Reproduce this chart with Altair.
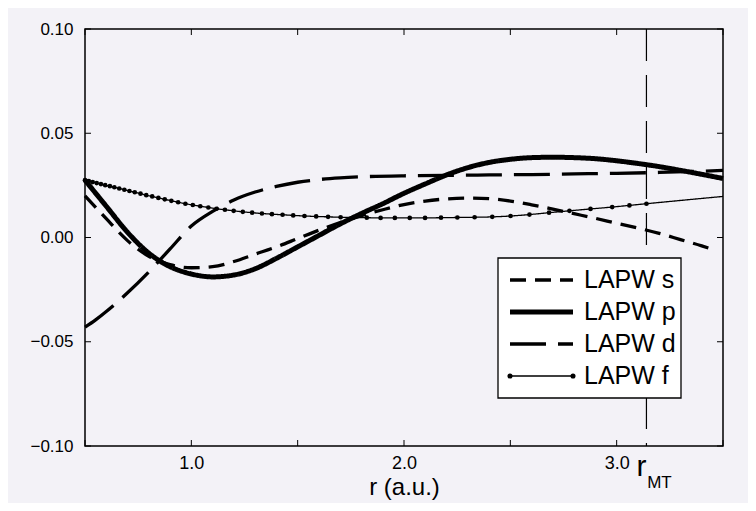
import altair as alt
import pandas as pd

SERIES = ["LAPW s", "LAPW p", "LAPW d", "LAPW f"]

# LAPW s (short dashes)
s_r = [0.50, 0.60, 0.70, 0.80, 0.90, 1.00, 1.10, 1.20, 1.30, 1.40, 1.50, 1.60, 1.70, 1.80,
       1.90, 2.00, 2.10, 2.20, 2.30, 2.40, 2.50, 2.60, 2.70, 2.80, 2.90, 3.00, 3.10, 3.20,
       3.30, 3.40, 3.46]
s_v = [0.0200, 0.0090, -0.0015, -0.0090, -0.0130, -0.0145, -0.0140, -0.0115, -0.0080,
       -0.0045, -0.0005, 0.0035, 0.0072, 0.0105, 0.0133, 0.0158, 0.0175, 0.0185, 0.0189,
       0.0186, 0.0175, 0.0157, 0.0136, 0.0114, 0.0092, 0.0068, 0.0045, 0.0020, -0.0010,
       -0.0040, -0.0060]

# LAPW p (thick solid)
p_r = [0.50, 0.60, 0.70, 0.80, 0.90, 1.00, 1.10, 1.20, 1.30, 1.40, 1.50, 1.60, 1.70, 1.80,
       1.90, 2.00, 2.10, 2.20, 2.30, 2.40, 2.50, 2.60, 2.70, 2.80, 2.90, 3.00, 3.10, 3.20,
       3.30, 3.40, 3.50]
p_v = [0.0275, 0.0150, 0.0025, -0.0075, -0.0140, -0.0175, -0.0189, -0.0180, -0.0150,
       -0.0100, -0.0045, 0.0010, 0.0065, 0.0115, 0.0162, 0.0212, 0.0257, 0.0300, 0.0335,
       0.0360, 0.0375, 0.0383, 0.0385, 0.0383, 0.0378, 0.0368, 0.0355, 0.0340, 0.0322,
       0.0303, 0.0283]

# LAPW d (long dashes)
d_r = [0.50, 0.55, 0.60, 0.70, 0.80, 0.90, 1.00, 1.10, 1.20, 1.30, 1.40, 1.50, 1.60, 1.70,
       1.80, 2.00, 2.20, 2.40, 2.60, 2.80, 3.00, 3.20, 3.40, 3.50]
d_v = [-0.0430, -0.0395, -0.0355, -0.0265, -0.0165, -0.0055, 0.0055, 0.0125, 0.0180,
       0.0218, 0.0245, 0.0265, 0.0278, 0.0286, 0.0291, 0.0296, 0.0298, 0.0300, 0.0302,
       0.0305, 0.0308, 0.0312, 0.0318, 0.0322]

# LAPW f (thin line with mesh dots up to r_MT)
f_r = [0.500, 0.518, 0.536, 0.555, 0.575, 0.595, 0.617, 0.638, 0.661, 0.685, 0.709, 0.734,
       0.761, 0.788, 0.816, 0.845, 0.875, 0.906, 0.938, 0.972, 1.007, 1.042, 1.080, 1.118,
       1.158, 1.199, 1.242, 1.286, 1.332, 1.379, 1.429, 1.479, 1.532, 1.587, 1.643, 1.702,
       1.762, 1.825, 1.890, 1.957, 2.027, 2.099, 2.174, 2.251, 2.332, 2.415, 2.501, 2.590,
       2.682, 2.778, 2.877, 2.979, 3.060, 3.140]
f_v = [0.0275, 0.0270, 0.0266, 0.0261, 0.0256, 0.0251, 0.0246, 0.0241, 0.0235, 0.0229,
       0.0223, 0.0217, 0.0210, 0.0203, 0.0197, 0.0190, 0.0183, 0.0176, 0.0169, 0.0162,
       0.0156, 0.0150, 0.0144, 0.0138, 0.0133, 0.0128, 0.0123, 0.0119, 0.0115, 0.0112,
       0.0109, 0.0106, 0.0103, 0.0101, 0.0099, 0.0097, 0.0096, 0.0095, 0.0094, 0.0094,
       0.0094, 0.0094, 0.0095, 0.0096, 0.0097, 0.0099, 0.0103, 0.0110, 0.0119, 0.0128,
       0.0137, 0.0146, 0.0154, 0.0162]
f_tail_r = [3.50]
f_tail_v = [0.0197]

R_MT = 3.14
x_ticks = [0.5, 1.0, 1.5, 2.0, 2.5, 3.0, 3.5]
y_ticks = [-0.10, -0.05, 0.00, 0.05, 0.10]

W, H = 638, 417
BG = "#f3f2f7"
FONT = "Liberation Sans"

rows = []
for name, rr, vv in [("LAPW s", s_r, s_v), ("LAPW p", p_r, p_v), ("LAPW d", d_r, d_v),
                     ("LAPW f", f_r + f_tail_r, f_v + f_tail_v)]:
    for a, b in zip(rr, vv):
        rows.append({"r": a, "value": b, "series": name})
df = pd.DataFrame(rows)
dots = pd.DataFrame({"r": f_r, "value": f_v, "series": "LAPW f"})

xs = alt.Scale(domain=[0.5, 3.5], nice=False, zero=False)
ys = alt.Scale(domain=[-0.10, 0.10], nice=False, zero=False)

dash_scale = alt.Scale(type="ordinal", domain=SERIES, range=[[16, 9], [1, 0], [36, 12], [1, 0]])
width_scale = alt.Scale(type="ordinal", domain=SERIES, range=[3.3, 5, 3.3, 1.3])

x_axis = alt.Axis(values=x_ticks, ticks=False, domain=False, grid=False,
                  labelExpr="(datum.value == 1 || datum.value == 2 || datum.value == 3) ? format(datum.value, '.1f') : ''",
                  labelFontSize=18, labelFont=FONT, labelColor="black", labelPadding=8,
                  title="r (a.u.)", titleFontSize=24, titleFont=FONT, titleFontWeight="normal",
                  titleColor="black", titlePadding=3)
y_axis = alt.Axis(values=y_ticks, ticks=False, domain=False, grid=False,
                  labelExpr="replace(format(datum.value, '.2f'), '-', '\u2212')",
                  labelFontSize=17, labelFont=FONT, labelColor="black", labelPadding=12,
                  title=None)

lines = alt.Chart(df).mark_line(color="black", interpolate="monotone").encode(
    x=alt.X("r:Q", scale=xs, axis=x_axis),
    y=alt.Y("value:Q", scale=ys, axis=y_axis),
    detail="series:N",
    strokeDash=alt.StrokeDash("series:N", scale=dash_scale, legend=None),
    strokeWidth=alt.StrokeWidth("series:N", scale=width_scale, legend=None),
)

pts = alt.Chart(dots).mark_circle(color="black", size=22, opacity=1).encode(
    x=alt.X("r:Q", scale=xs), y=alt.Y("value:Q", scale=ys))

rmt_df = pd.DataFrame({"r": [R_MT]})
rmt_line = alt.Chart(rmt_df).mark_rule(color="black", strokeWidth=1.2, strokeDash=[32, 14]).encode(
    x=alt.X("r:Q", scale=xs), y=alt.value(0), y2=alt.value(H))
rmt_r = alt.Chart(rmt_df).mark_text(text="r", font=FONT, fontSize=30, color="black",
                                    baseline="middle", align="center", dx=-5).encode(
    x=alt.X("r:Q", scale=xs), y=alt.value(438))
rmt_sub = alt.Chart(rmt_df).mark_text(text="MT", font=FONT, fontSize=17, color="black",
                                      baseline="middle", align="center", dx=13).encode(
    x=alt.X("r:Q", scale=xs), y=alt.value(454))

xt = pd.DataFrame({"t": x_ticks})
yt = pd.DataFrame({"t": y_ticks})
tick_b = alt.Chart(xt).mark_rule(color="black", strokeWidth=1).encode(
    x=alt.X("t:Q", scale=xs), y=alt.value(H), y2=alt.value(H - 6))
tick_t = alt.Chart(xt).mark_rule(color="black", strokeWidth=1).encode(
    x=alt.X("t:Q", scale=xs), y=alt.value(0), y2=alt.value(6))
tick_l = alt.Chart(yt).mark_rule(color="black", strokeWidth=1).encode(
    y=alt.Y("t:Q", scale=ys), x=alt.value(0), x2=alt.value(6))
tick_r = alt.Chart(yt).mark_rule(color="black", strokeWidth=1).encode(
    y=alt.Y("t:Q", scale=ys), x=alt.value(W), x2=alt.value(W - 6))

main = alt.layer(rmt_line, lines, pts, tick_b, tick_t, tick_l, tick_r, rmt_r, rmt_sub)

# legend box
leg_df = pd.DataFrame({"series": SERIES})
ly = alt.Y("series:N", scale=alt.Scale(type="point", domain=SERIES, range=[251, 347], padding=0),
           axis=None)
box = alt.Chart(pd.DataFrame({"a": [0]})).mark_rect(fill="white", stroke="black", strokeWidth=1.3).encode(
    x=alt.value(413), x2=alt.value(596), y=alt.value(229), y2=alt.value(369))
leg_lines = alt.Chart(leg_df).mark_rule(color="black").encode(
    y=ly, x=alt.value(425), x2=alt.value(488),
    strokeDash=alt.StrokeDash("series:N", scale=dash_scale, legend=None),
    strokeWidth=alt.StrokeWidth("series:N", scale=width_scale, legend=None),
)
leg_f = leg_df[leg_df["series"] == "LAPW f"]
leg_dot1 = alt.Chart(leg_f).mark_circle(color="black", size=26, opacity=1).encode(y=ly, x=alt.value(425))
leg_dot2 = alt.Chart(leg_f).mark_circle(color="black", size=26, opacity=1).encode(y=ly, x=alt.value(488))
leg_text = alt.Chart(leg_df).mark_text(font=FONT, fontSize=25, color="black", align="left",
                                       baseline="middle").encode(
    y=ly, x=alt.value(499), text="series:N")
legend = alt.layer(box, leg_lines, leg_dot1, leg_dot2, leg_text)

chart = alt.layer(main, legend).resolve_scale(y="independent").properties(
    width=W, height=H,
    autosize=alt.AutoSizeParams(type="none"),
    padding={"left": 77, "top": 21, "right": 25, "bottom": 57},
    background=BG,
).configure_view(stroke="black", strokeWidth=1.5, fill=BG)

chart.save("out.html", embed_options={"renderer": "svg", "actions": False})
